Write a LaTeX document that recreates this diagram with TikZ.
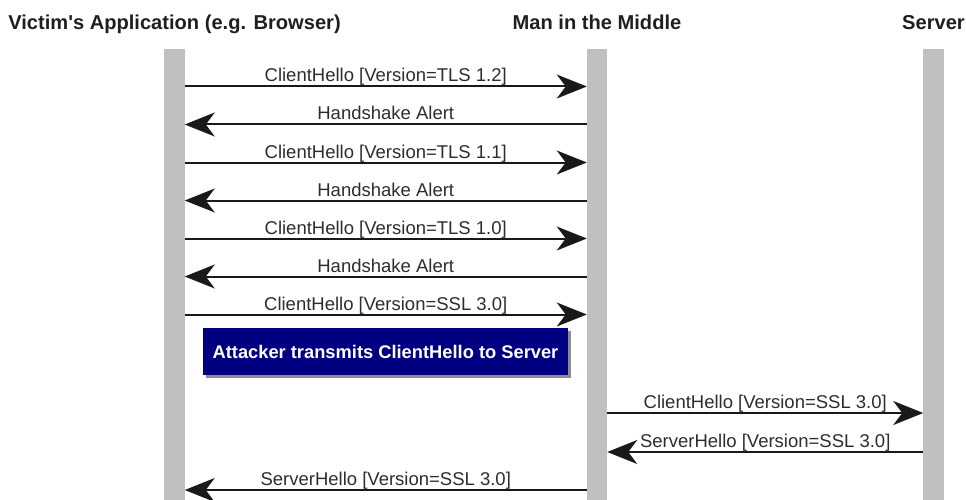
\documentclass[tikz,border=0pt]{standalone}
\usepackage{fontspec}
\setmainfont{Liberation Sans}[Ligatures=TeXOff]
\usetikzlibrary{arrows.meta,shadows}
\definecolor{barcol}{RGB}{192,192,192}
\definecolor{navybox}{RGB}{0,0,128}
\definecolor{inkgray}{RGB}{45,45,45}
\begin{document}
\begin{tikzpicture}[x=1pt,y=-1pt,
  lifeline/.style={fill=barcol,draw=none,minimum width=20.5pt,minimum height=451pt,inner sep=0pt,outer sep=0pt},
  header/.style={font=\fontsize{20.1}{23}\selectfont\bfseries,text=black!88,anchor=base,inner sep=0pt},
  msg/.style={draw=black!90,line width=2pt,-{Stealth[length=30pt,width=24pt,inset=9pt]}},
  lbl/.style={font=\fontsize{18.5}{21}\selectfont,text=inkgray,anchor=base,inner sep=0pt,yshift=4.5pt},
  notebox/.style={fill=navybox,draw=none,minimum width=365pt,minimum height=47pt,inner sep=0pt,
    text=white,font=\fontsize{18.3}{20}\selectfont\bfseries,
    drop shadow={shadow xshift=3pt,shadow yshift=-3pt,fill=black,opacity=0.45}}]
\useasboundingbox (0,0) rectangle (966,500);

% participants
\node[header] (hvic) at (174.5,30) {Victim's Application (e.g. Browser)};
\node[header] (hmitm) at (597,30) {Man in the Middle};
\node[header] (hsrv) at (933.5,30) {Server};

% lifelines
\node[lifeline] (vic) at (174.5,275) {};
\node[lifeline] (mitm) at (597,275) {};
\node[lifeline] (srv) at (933.5,275) {};

% message rows
\foreach \n/\y in {1/86.5,2/124.5,3/162.5,4/200.5,5/238.5,6/276.5,7/314.5,8/413,9/452,10/490}
  \coordinate (row\n) at (0,\y);

\draw[msg] (vic.east |- row1) -- node[lbl] {ClientHello [Version=TLS 1.2]} (mitm.west |- row1);
\draw[msg] (mitm.west |- row2) -- node[lbl] {Handshake Alert} (vic.east |- row2);
\draw[msg] (vic.east |- row3) -- node[lbl] {ClientHello [Version=TLS 1.1]} (mitm.west |- row3);
\draw[msg] (mitm.west |- row4) -- node[lbl] {Handshake Alert} (vic.east |- row4);
\draw[msg] (vic.east |- row5) -- node[lbl] {ClientHello [Version=TLS 1.0]} (mitm.west |- row5);
\draw[msg] (mitm.west |- row6) -- node[lbl] {Handshake Alert} (vic.east |- row6);
\draw[msg] (vic.east |- row7) -- node[lbl] {ClientHello [Version=SSL 3.0]} (mitm.west |- row7);

% attacker note
\node[notebox] (note) at (385.5,351.5) {Attacker transmits ClientHello to Server};

\draw[msg] (mitm.east |- row8) -- node[lbl] {ClientHello [Version=SSL 3.0]} (srv.west |- row8);
\draw[msg] (srv.west |- row9) -- node[lbl] {ServerHello [Version=SSL 3.0]} (mitm.east |- row9);
\draw[msg] (mitm.west |- row10) -- node[lbl] {ServerHello [Version=SSL 3.0]} (vic.east |- row10);
\end{tikzpicture}
\end{document}
